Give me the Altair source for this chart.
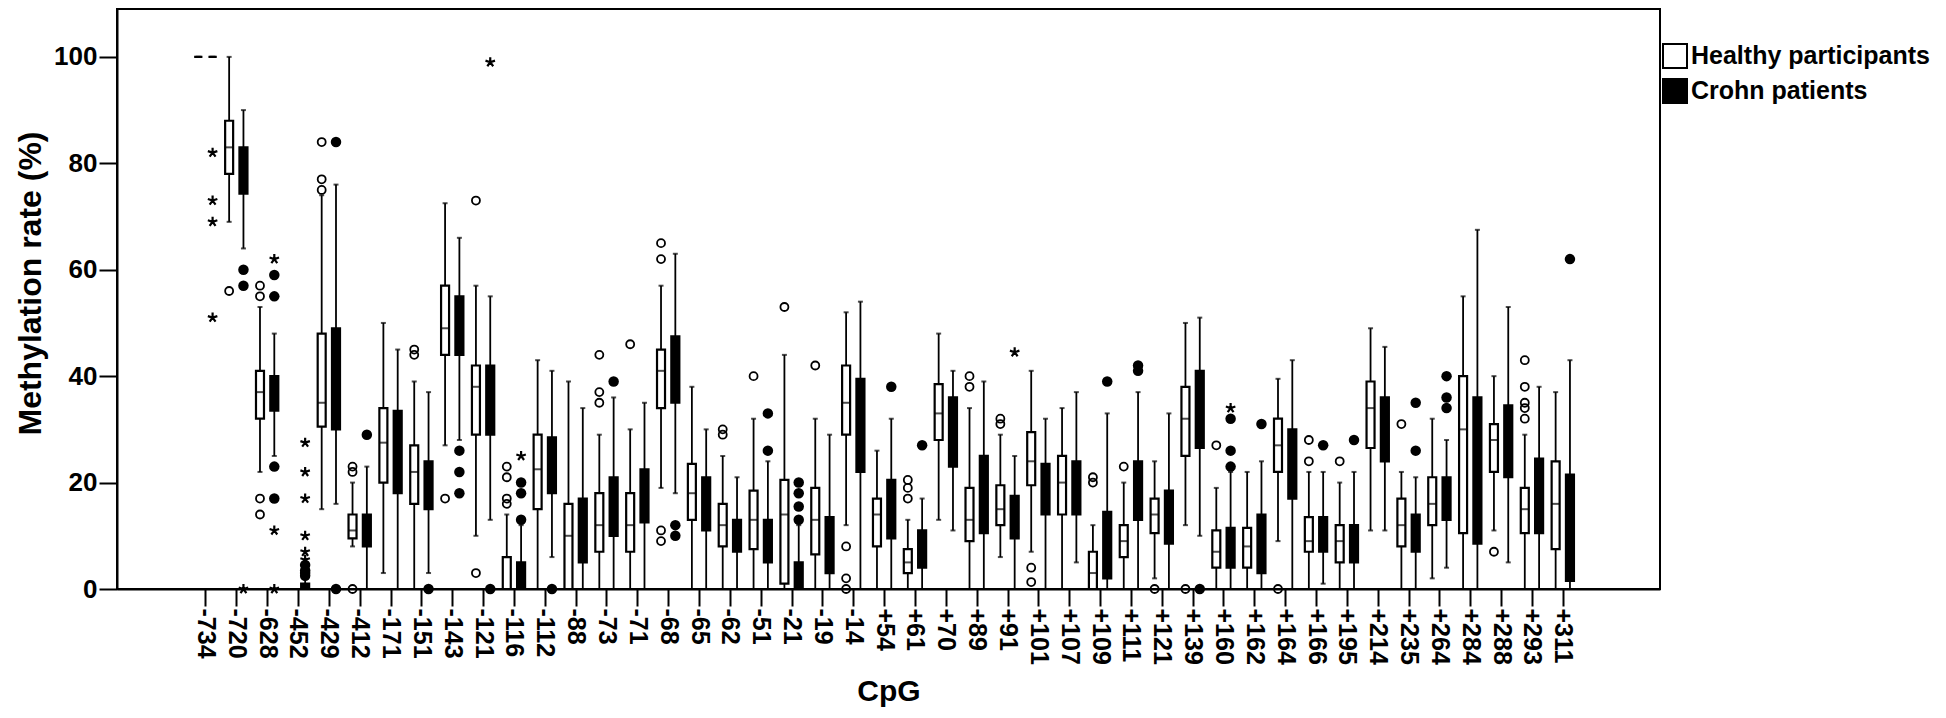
import json
import pandas as pd
import altair as alt

FONT = "Liberation Sans"

CPG = ["-734", "-720", "-628", "-452", "-429", "-412", "-171", "-151", "-143", "-121",
       "-116", "-112", "-88", "-73", "-71", "-68", "-65", "-62", "-51", "-21",
       "-19", "-14", "+54", "+61", "+70", "+89", "+91", "+101", "+107", "+109",
       "+111", "+121", "+139", "+160", "+162", "+164", "+166", "+195", "+214", "+235",
       "+264", "+284", "+288", "+293", "+311"]
GROUPS = ["Healthy participants", "Crohn patients"]

# Healthy participants: whisker low, Q1, median, Q3, whisker high
H_LO = [100, 69, 22, 0, 15, 8, 3, 0, 27, 10, 0, 0, 0, 0, 0, 19, 0, 0, 0, 0,
        0, 12, 0, 0, 13, 0, 6, 7, 0, 0, 0, 2, 12, 0, 0, 9, 0, 0, 11, 0,
        2, 0, 11, 0, 0]
H_Q1 = [100, 78, 32, 0, 30.5, 9.5, 20, 16, 44, 29, 0, 15, 0, 7, 7, 34, 13, 8, 7.5, 1,
        6.5, 29, 8, 3, 28, 9, 12, 19.5, 14, 0, 6, 10.5, 25, 4, 4, 22, 7, 5, 26.5, 8,
        12, 10.5, 22, 10.5, 7.5]
H_MED = [100, 83, 37, 0, 35, 11, 27.5, 22, 49, 38, 0, 22.5, 10, 12, 12, 41, 18, 12, 13, 14,
         13, 35, 14, 5, 33, 13, 15, 24, 20, 3, 9, 14, 32, 7, 8, 27, 9, 9, 34, 12,
         16, 30, 28, 15, 16]
H_Q3 = [100, 88, 41, 0, 48, 14, 34, 27, 57, 42, 6, 29, 16, 18, 18, 45, 23.5, 16, 18.5, 20.5,
        19, 42, 17, 7.5, 38.5, 19, 19.5, 29.5, 25, 7, 12, 17, 38, 11, 11.5, 32, 13.5, 12, 39, 17,
        21, 40, 31, 19, 24]
H_HI = [100, 100, 53, 0, 74, 20, 50, 39, 72.5, 57, 14, 43, 39, 29, 30, 57, 38, 25, 32, 44,
        32, 52, 26, 13, 48, 34, 29, 41, 34, 12, 20, 24, 50, 19, 22, 39.5, 22, 20, 49, 22,
        32, 55, 40, 29, 37]

# Crohn patients: whisker low, Q1, median, Q3, whisker high
C_LO = [100, 64, 25, 0, 16, 0, 0, 3, 28, 13, 0, 6, 0, 0, 0, 18, 0, 0, 0, 0,
        0, 0, 0, 0, 11, 0, 0, 0, 5, 0, 0, 0, 10, 0, 0, 0, 1, 0, 11, 0,
        4, 0, 5, 0, 0]
C_Q1 = [100, 74.3, 33.5, 0, 30, 8, 18, 15, 44, 29, 0, 18, 5, 10, 12.5, 35, 11, 7, 5, 0,
        3, 22, 9.5, 4, 23, 10.5, 9.5, 14, 14, 2, 13, 8.5, 26.5, 4, 3, 17, 7, 5, 24, 7,
        13, 8.5, 21, 10.5, 1.5]
C_MED = [100, 79, 37, 0, 39, 10, 25, 19, 49, 36, 0, 22, 11, 15, 17, 41, 16, 10, 9, 0,
         8, 30, 15, 8, 30, 17, 13, 19, 19, 8, 18, 13, 33, 8, 8, 24, 10, 9, 30, 10,
         17, 25, 27, 17, 10]
C_Q3 = [100, 83, 40, 1, 49, 14, 33.5, 24, 55, 42, 5, 28.5, 17, 21, 22.5, 47.5, 21, 13, 13, 5,
        13.5, 39.5, 20.5, 11, 36, 25, 17.5, 23.5, 24, 14.5, 24, 18.5, 41, 11.5, 14, 30, 13.5, 12, 36, 14,
        21, 36, 34.5, 24.5, 21.5]
C_HI = [100, 90, 48, 2, 76, 23, 45, 37, 66, 55, 12, 41, 34, 36, 35, 63, 30, 21, 24, 12,
        29, 54, 32, 17, 41, 39, 25, 32, 37, 33, 37, 33, 51, 22, 24, 43, 22, 22, 45.5, 21,
        28, 67.5, 53, 38, 43]

# Outliers (circles) and extreme values (asterisks), by CpG
H_CIRCLES = {"-720": [56], "-628": [57, 55, 17, 14], "-429": [84, 77, 75], "-412": [23, 22, 0],
             "-151": [45, 44], "-143": [17], "-121": [73, 3], "-116": [23, 21, 17, 16],
             "-73": [44, 37, 35], "-71": [46], "-68": [65, 62, 11, 9], "-62": [30, 29],
             "-51": [40], "-21": [53], "-19": [42], "-14": [8, 2, 0], "+61": [20.5, 19, 17],
             "+89": [40, 38], "+91": [32, 31], "+101": [4, 1.3], "+109": [21, 20], "+111": [23],
             "+121": [0], "+139": [0], "+160": [27], "+164": [0], "+166": [28, 24], "+195": [24],
             "+235": [31], "+288": [7], "+293": [43, 38, 35, 34, 32]}
C_CIRCLES = {"-720": [60, 57], "-628": [59, 55, 23, 17], "-452": [4.5, 3.5, 3, 2.5], "-429": [84, 0],
             "-412": [29], "-151": [0], "-143": [26, 22, 18], "-121": [0], "-116": [20, 18, 13],
             "-112": [0], "-73": [39], "-68": [12, 10], "-51": [33, 26], "-21": [20, 18, 15.5, 13],
             "+54": [38], "+61": [27], "+109": [39], "+111": [42, 41], "+139": [0],
             "+160": [32, 26, 23], "+162": [31], "+166": [27], "+195": [28], "+235": [35, 26],
             "+264": [40, 36, 34], "+311": [62]}
C_STARS = {"-734": [82, 73, 69, 51], "-720": [0], "-628": [62, 11, 0],
           "-452": [27.5, 22, 17, 10, 7, 5.5], "-121": [99], "-116": [25], "+91": [44.5],
           "+160": [34]}

OFFSET = {GROUPS[0]: -0.232, GROUPS[1]: 0.232}

box_rows = []
for i, name in enumerate(CPG):
    for g, stats in ((GROUPS[0], (H_LO, H_Q1, H_MED, H_Q3, H_HI)),
                     (GROUPS[1], (C_LO, C_Q1, C_MED, C_Q3, C_HI))):
        lo, q1, med, q3, hi = (s[i] for s in stats)
        box_rows.append({"cpg": name, "group": g, "pos": i + OFFSET[g],
                         "lo": lo, "q1": q1, "med": med, "q3": q3, "hi": hi})
boxes = pd.DataFrame(box_rows)


def points(table, group):
    rows = []
    for name, vals in table.items():
        i = CPG.index(name)
        for v in vals:
            rows.append({"cpg": name, "group": group, "pos": i + OFFSET[group], "value": v})
    return pd.DataFrame(rows)


h_circ = points(H_CIRCLES, GROUPS[0])
c_circ = points(C_CIRCLES, GROUPS[1])
c_star = points(C_STARS, GROUPS[1])

x_axis = alt.Axis(values=list(range(len(CPG))), labelExpr=json.dumps(CPG) + "[datum.value]",
                  title="CpG", labelAngle=90, tickSize=17, labelPadding=2, labelFontSize=25,
                  titleFontSize=30, titlePadding=12, labelOverlap=False, labelFlush=False)
x_scale = alt.Scale(domain=[-2.705, 46.989], nice=False, zero=False)
y_axis = alt.Axis(values=[0, 20, 40, 60, 80, 100], title="Methylation rate (%)", tickSize=18,
                  labelPadding=2, labelFontSize=26, titleFontSize=32, titlePadding=6,
                  titleY=274)
y_scale = alt.Scale(domain=[0, 109.0], nice=False, zero=False)


def X():
    return alt.X("pos:Q", scale=x_scale, axis=x_axis)


def Y(field):
    return alt.Y(field + ":Q", scale=y_scale, axis=y_axis)


base = alt.Chart(boxes)

whisk_lo = base.mark_rule(color="black", strokeWidth=1.8).encode(x=X(), y=Y("lo"), y2="q1:Q")
whisk_hi = base.mark_rule(color="black", strokeWidth=1.8).encode(x=X(), y=Y("q3"), y2="hi:Q")
cap_lo = base.mark_tick(orient="horizontal", size=5, thickness=2, color="black").encode(x=X(), y=Y("lo"))
cap_hi = base.mark_tick(orient="horizontal", size=5, thickness=2, color="black").encode(x=X(), y=Y("hi"))
box = base.mark_bar(size=8, stroke="black", strokeWidth=2.2).encode(
    x=X(), y=Y("q1"), y2="q3:Q",
    fill=alt.Fill("group:N", scale=alt.Scale(domain=GROUPS, range=["white", "black"]),
                  legend=alt.Legend(orient="none", legendX=1545, legendY=34, title=None,
                                    symbolType="square", symbolSize=576,
                                    symbolStrokeColor="black", symbolStrokeWidth=2,
                                    labelFont=FONT, labelFontSize=25, labelFontWeight="bold",
                                    labelColor="black", labelLimit=400, labelOffset=3,
                                    rowPadding=3, padding=0)))
median = base.mark_tick(orient="horizontal", size=8, thickness=2, color="black").encode(x=X(), y=Y("med"))

open_pts = alt.Chart(h_circ).mark_point(shape="circle", filled=False, size=64, strokeWidth=1.8,
                                         color="black", opacity=1).encode(x=X(), y=Y("value"))
fill_pts = alt.Chart(c_circ).mark_point(shape="circle", filled=True, size=110,
                                         color="black", opacity=1).encode(x=X(), y=Y("value"))
STAR = "M0,0L0,-1M0,0L0.951,-0.309M0,0L0.588,0.809M0,0L-0.588,0.809M0,0L-0.951,-0.309"
stars = alt.Chart(c_star).mark_point(shape=STAR, filled=False, size=100, strokeWidth=2.2,
                                      color="black", opacity=1).encode(x=X(), y=Y("value"))

chart = alt.layer(whisk_lo, whisk_hi, cap_lo, cap_hi, box, median, open_pts, fill_pts, stars).properties(
    width=1543, height=580,
    padding={"left": 109, "top": 1, "right": 276, "bottom": 127},
    autosize=alt.AutoSizeParams(type="none"),
).configure_view(stroke="black", strokeWidth=2).configure_axis(
    domainColor="black", domainWidth=2, tickColor="black", tickWidth=2,
    labelFont=FONT, labelFontWeight="bold", labelColor="black",
    titleFont=FONT, titleFontWeight="bold", titleColor="black", grid=False)

chart.save("out.html", embed_options={"renderer": "svg", "actions": False})
